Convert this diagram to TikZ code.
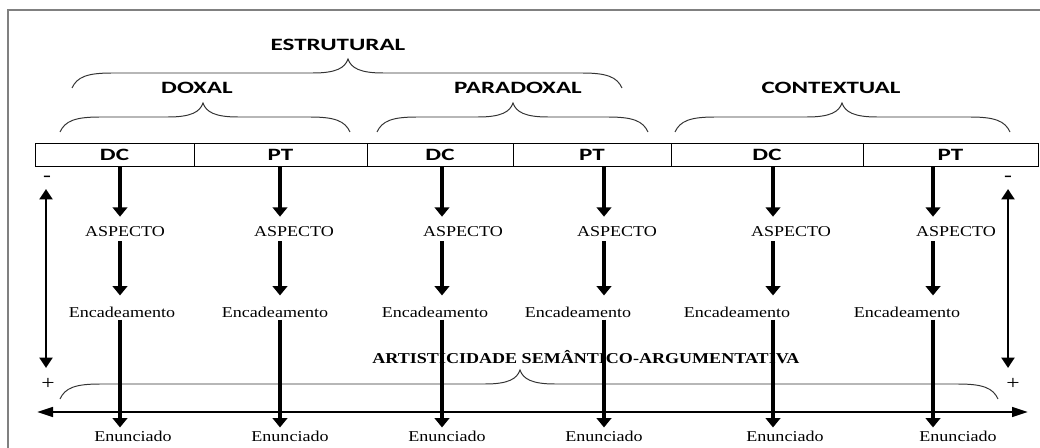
\documentclass[tikz,border=0pt]{standalone}
\usepackage{fontspec}
\setmainfont{Liberation Serif}[FakeStretch=1.2]
\newfontfamily\lblfont{Carlito}[FakeStretch=1.45]
\usetikzlibrary{arrows.meta}
\newcommand{\brc}[4]{%
  \draw[brc] (#1,#4)
    .. controls (#1+5,#4-11) and (#1+15,#4-15) .. (#1+40,#4-15)
    -- (#2-35,#4-15)
    .. controls (#2-12,#4-15) and (#2-3,#4-20) .. (#2,#4-29)
    .. controls (#2+3,#4-20) and (#2+12,#4-15) .. (#2+35,#4-15)
    -- (#3-40,#4-15)
    .. controls (#3-15,#4-15) and (#3-5,#4-11) .. (#3,#4);}
\tikzset{dgp/.style={
  x=0.25mm,
  y=-0.25mm
}}
\tikzset{hdn/.style={
  inner sep=0pt,
  font=\lblfont\bfseries\fontsize{12.3}{14}\selectfont
}}
\tikzset{cell/.style={
  hdn,
  draw,
  line width=0.7pt,
  minimum height=5.75mm
}}
\tikzset{txn/.style={
  inner sep=0pt,
  font=\fontsize{10.7}{12}\selectfont
}}
\tikzset{sgn/.style={
  inner sep=0pt,
  font=\fontsize{14}{16}\selectfont
}}
\tikzset{brc/.style={draw=gray!40!black,line width=0.7pt}}
\tikzset{varr/.style={line width=2.2pt,-{Triangle[width=3.6mm,length=2.3mm]}}}
\tikzset{harr/.style={line width=1.8pt,
  {Triangle[width=2.4mm,length=4mm]}-{Triangle[width=2.4mm,length=4mm]}}}
\tikzset{sarr/.style={line width=2pt,
  {Triangle[width=3.2mm,length=2.6mm]}-{Triangle[width=3.2mm,length=2.6mm]}}}
\begin{document}
\begin{tikzpicture}[dgp]
    \useasboundingbox (0,0) rectangle (1040,448);

    %% Frame
    \draw[gray,line width=0.8pt] (8,448) -- (8,10) -- (1040,10);

    %% Headings and braces
    \node[hdn] (estr) at (338,45) {ESTRUTURAL};
    \node[hdn] (dox) at (197,88) {DOXAL};
    \node[hdn] (para) at (518,88) {PARADOXAL};
    \node[hdn] (cont) at (831,88) {CONTEXTUAL};
    \brc{72}{348}{622}{88}
    \brc{60}{203}{350}{132}
    \brc{377}{513}{648}{132}
    \brc{675}{842}{1010}{132}

    %% Row of cells
    \foreach \x/\w/\t [count=\i] in {114.5/159/DC,280.5/173/PT,440/146/DC,
        592/158/PT,767/192/DC,950.5/175/PT}
      \node[cell,minimum width=\w*0.25mm] (cell\i) at (\x,154.5) {\t};

    %% Bottom scale
    \node[txn,font=\fontsize{10.7}{12}\selectfont\bfseries] (arts) at (586,357)
      {ARTISTICIDADE SEMÂNTICO-ARGUMENTATIVA};
    \brc{60}{520}{998}{399}
    \coordinate (hl) at (37,412);
    \coordinate (hr) at (1028,412);
    \draw[harr] (hl) -- (hr);

    % Side scales
    \node[sgn] (lmin) at (47,179) {-};
    \node[sgn] (lpls) at (48,384) {+};
    \node[sgn] (rmin) at (1008,179) {-};
    \node[sgn] (rpls) at (1013,384) {+};
    \coordinate (ltop) at (46,189);
    \coordinate (lbot) at (46,368);
    \coordinate (rtop) at (1008,189);
    \coordinate (rbot) at (1008,368);
    \draw[sarr] (ltop) -- (lbot);
    \draw[sarr] (rtop) -- (rbot);

    %% Columns
    \foreach \c/\a/\e/\n [count=\i] in {120/125/122/133,280/294/275/290,
        442/463/435/447,604/617/578/604,773/791/737/785,933/956/907/958} {
      \coordinate (col\i) at (\c,0);
      \node[txn] (asp\i) at (\a,232) {ASPECTO};
      \node[txn] (enc\i) at (\e,312) {Encadeamento};
      \node[txn] (enu\i) at (\n,436) {Enunciado};
      \draw[varr,shorten >=2.5mm] (cell\i.south -| col\i) -- (asp\i.north -| col\i);
      \draw[varr,shorten <=1mm,shorten >=2.75mm] (asp\i.south -| col\i) -- (enc\i.north -| col\i);
      \draw[varr,shorten <=0.5mm,shorten >=0.75mm] (enc\i.south -| col\i) -- (enu\i.north -| col\i);
    }

  \end{tikzpicture}
\end{document}
